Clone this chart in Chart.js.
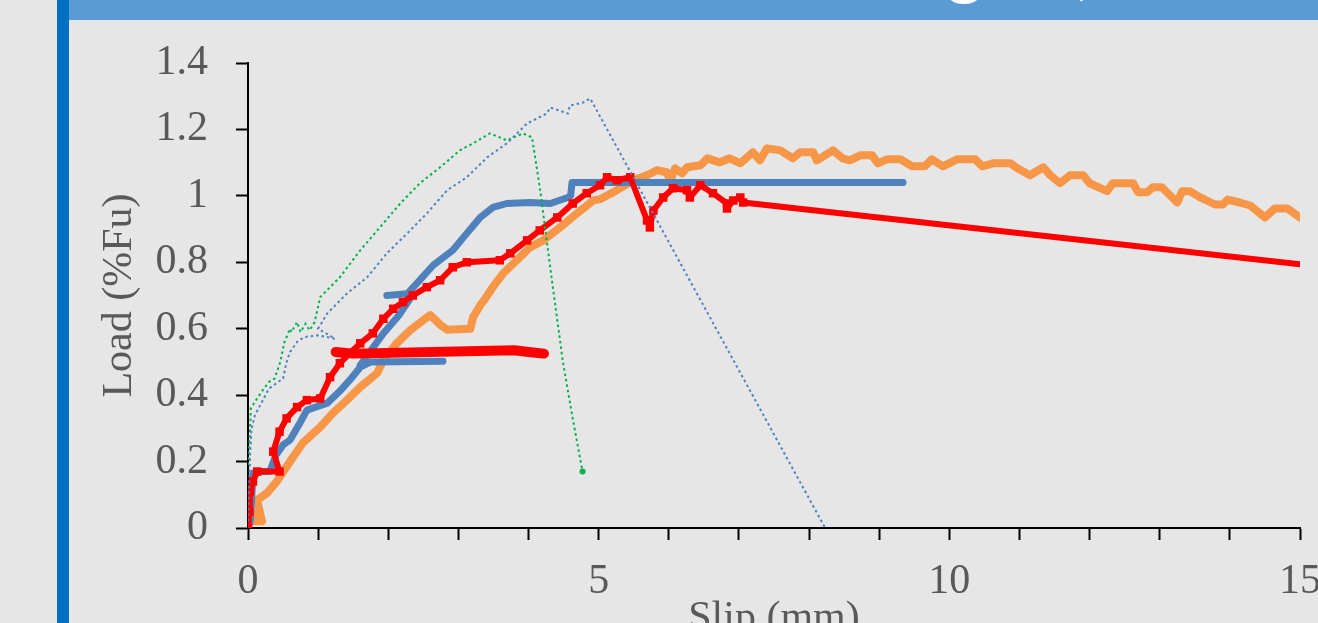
<!DOCTYPE html>
<html>
<head>
<meta charset="utf-8">
<script src="https://cdn.jsdelivr.net/npm/chart.js@4.4.1/dist/chart.umd.min.js"></script>
<style>
  html, body { margin: 0; padding: 0; width: 1318px; height: 623px; overflow: hidden; background: #e6e6e6; }
  #bar { position: absolute; left: 57px; top: 0; width: 12px; height: 623px; background: #0070c0; }
  #banner { position: absolute; left: 69px; top: 0; width: 1249px; height: 20px; background: #5b9bd5; overflow: hidden; }
  #banner span { position: absolute; top: -73px; white-space: nowrap; color: #fff; font: 72px/1 Lato, sans-serif; }
  #headA { right: 372px; }
  #headB { left: 877px; }
  #wrap { position: absolute; left: 0; top: 0; width: 1360px; height: 660px; }
</style>
</head>
<body>
<div id="bar"></div>
<div id="banner"><span id="headA">Bond Behaviour and Stren</span><span id="headB">gth (Normalised)</span></div>
<div id="wrap"><canvas id="chart" width="1360" height="660"></canvas></div>
<script>
// tick labels
const xTickLabels = [0, 5, 10, 15];
const yTickLabels = ['0', '0.2', '0.4', '0.6', '0.8', '1', '1.2', '1.4'];

// [slip (mm), load (%Fu)]
const greenDotted = [[0,0.19],[0.02,0.26],[0.03,0.3],[0.04,0.36],[0.13,0.39],[0.21,0.415],[0.3,0.44],[0.38,0.45],[0.46,0.5],[0.52,0.56],[0.6,0.6],[0.62,0.59],[0.7,0.62],[0.75,0.59],[0.82,0.615],[0.88,0.595],[0.95,0.62],[1.03,0.695],[1.31,0.755],[1.6,0.836],[1.88,0.905],[2.17,0.977],[2.45,1.038],[2.74,1.086],[3.02,1.137],[3.21,1.158],[3.45,1.188],[3.69,1.167],[3.92,1.188],[4.05,1.176],[4.16,1.026],[4.35,0.72],[4.49,0.5],[4.63,0.33],[4.77,0.17]];
const blueDotted = [[0,0.02],[0.02,0.15],[0.03,0.22],[0.05,0.3],[0.1,0.34],[0.2,0.38],[0.3,0.42],[0.4,0.435],[0.5,0.45],[0.55,0.5],[0.6,0.53],[0.7,0.56],[0.8,0.575],[1.0,0.58],[1.24,0.57],[1.0,0.6],[1.13,0.646],[1.41,0.706],[1.7,0.755],[1.98,0.827],[2.27,0.887],[2.55,0.947],[2.84,1.017],[3.12,1.056],[3.41,1.116],[3.69,1.158],[3.98,1.218],[4.26,1.248],[4.31,1.266],[4.56,1.248],[4.59,1.272],[4.78,1.281],[4.88,1.293],[8.23,0]];
const blueLow = [[0,0],[0.03,0.02],[0.05,0.08],[0.07,0.165],[0.2,0.17],[0.31,0.17],[0.4,0.22],[0.5,0.25],[0.6,0.265],[0.75,0.32],[0.84,0.355],[1.13,0.376],[1.3,0.41],[1.45,0.445],[1.6,0.484],[1.75,0.5],[2.78,0.502]];
const blueRise = [[1.6,0.49],[1.93,0.586],[2.15,0.64],[2.31,0.69]];
const blueHigh = [[1.98,0.70],[2.27,0.705],[2.45,0.746],[2.64,0.791],[2.92,0.836],[3.12,0.887],[3.31,0.935],[3.49,0.965],[3.69,0.977],[4.02,0.98],[4.31,0.977],[4.56,0.995],[4.6,1.0],[4.62,1.04],[9.34,1.04]];
const redMain = [[0,0],[0.02,0.05],[0.03,0.11],[0.07,0.14],[0.13,0.17],[0.45,0.17],[0.36,0.23],[0.45,0.29],[0.55,0.33],[0.7,0.364],[0.84,0.385],[1.03,0.39],[1.17,0.454],[1.31,0.496],[1.45,0.526],[1.6,0.556],[1.78,0.586],[1.93,0.63],[2.07,0.66],[2.21,0.68],[2.35,0.70],[2.55,0.725],[2.74,0.746],[2.92,0.785],[3.12,0.8],[3.59,0.806],[3.74,0.827],[3.98,0.866],[4.16,0.896],[4.41,0.935],[4.63,0.977],[4.83,1.008],[5.02,1.032],[5.12,1.056],[5.26,1.047],[5.45,1.056],[5.69,0.926],[5.73,0.905],[5.78,0.956],[5.92,0.995],[6.06,1.023],[6.26,1.017],[6.3,0.995],[6.45,1.032],[6.63,1.008],[6.83,0.977],[6.83,0.962],[6.92,0.986],[7.02,0.995],[7.06,0.98],[15,0.794]];
const redPlateau = [[1.25,0.53],[1.5,0.525],[3.8,0.535],[4.0,0.53],[4.22,0.525]];
const orangeTest = [[0,0],[0.03,0.05],[0.07,0.045],[0.1,0.02],[0.2,0.02],[0.13,0.084],[0.27,0.105],[0.41,0.14],[0.6,0.2],[0.78,0.256],[1.03,0.304],[1.21,0.346],[1.41,0.385],[1.6,0.424],[1.84,0.466],[1.93,0.505],[2.12,0.556],[2.31,0.595],[2.5,0.626],[2.6,0.641],[2.74,0.612],[2.84,0.597],[3.17,0.6],[3.21,0.635],[3.31,0.67],[3.38,0.69],[3.49,0.725],[3.64,0.767],[3.83,0.806],[4.02,0.845],[4.21,0.866],[4.45,0.905],[4.69,0.947],[4.92,0.986],[5.02,0.99],[5.26,1.017],[5.49,1.047],[5.69,1.062],[5.83,1.077],[5.97,1.071],[6.02,1.047],[6.09,1.083],[6.19,1.068],[6.26,1.086],[6.45,1.092],[6.55,1.113],[6.73,1.101],[6.87,1.113],[7.02,1.098],[7.2,1.131],[7.3,1.107],[7.4,1.143],[7.59,1.137],[7.77,1.113],[7.87,1.131],[8.06,1.131],[8.11,1.107],[8.34,1.137],[8.48,1.113],[8.58,1.107],[8.73,1.122],[8.9,1.122],[8.98,1.098],[9.11,1.11],[9.3,1.11],[9.47,1.089],[9.65,1.089],[9.75,1.11],[9.91,1.089],[10.11,1.11],[10.37,1.11],[10.47,1.089],[10.62,1.098],[10.87,1.098],[10.97,1.083],[11.15,1.062],[11.34,1.086],[11.44,1.062],[11.58,1.038],[11.72,1.062],[11.91,1.062],[12.0,1.038],[12.25,1.014],[12.33,1.038],[12.62,1.038],[12.69,1.011],[12.82,1.011],[12.9,1.026],[13.03,1.026],[13.25,0.98],[13.32,1.014],[13.43,1.014],[13.57,0.996],[13.67,0.986],[13.79,0.974],[13.9,0.974],[13.97,0.989],[14.14,0.98],[14.29,0.971],[14.5,0.935],[14.64,0.962],[14.82,0.962],[15.0,0.935]];

const BLUE = '#4f81bd', GREEN = '#00b050', ORANGE = '#f79646', RED = '#ff0000';
const AXIS_TEXT = '#595959';
const serif = 'Liberation Serif, Times New Roman, serif';

function line(points, color, width, extra) {
  return Object.assign({
    data: points.map(p => ({ x: p[0], y: p[1] })),
    showLine: true,
    borderColor: color,
    backgroundColor: color,
    borderWidth: width,
    pointRadius: 0,
    borderJoinStyle: 'round',
    borderCapStyle: 'round',
    tension: 0
  }, extra || {});
}

const dotted = { borderDash: [2.5, 3], borderCapStyle: 'butt', borderJoinStyle: 'miter', order: 0 };

const datasets = [
  line(orangeTest, ORANGE, 8, { order: 4 }),
  line(blueLow, BLUE, 7, { order: 3 }),
  line(blueRise, BLUE, 7, { order: 3 }),
  line(blueHigh, BLUE, 7, { order: 3 }),
  line(redPlateau, RED, 10, { order: 2 }),
  line(redMain, RED, 6, {
    order: 1,
    pointStyle: 'rect',
    pointBorderWidth: 0,
    pointRadius: c => c.dataIndex < redMain.length - 1 ? 6 : 0
  }),
  line(blueDotted, BLUE, 2, dotted),
  line(greenDotted, GREEN, 2, Object.assign({}, dotted, {
    pointBorderWidth: 0,
    pointRadius: c => c.dataIndex === greenDotted.length - 1 ? 3 : 0
  }))
];

new Chart(document.getElementById('chart'), {
  type: 'scatter',
  data: { datasets: datasets },
  options: {
    responsive: false,
    animation: false,
    events: [],
    layout: { padding: { left: 70, top: 63, right: 60, bottom: 0 } },
    plugins: { legend: { display: false }, tooltip: { enabled: false } },
    scales: {
      x: {
        type: 'linear', min: 0, max: 15,
        ticks: {
          stepSize: 1, autoSkip: false, maxRotation: 0, padding: 17,
          color: AXIS_TEXT, font: { family: serif, size: 42 },
          callback: v => xTickLabels.includes(v) ? String(v) : ''
        },
        grid: { drawOnChartArea: false, drawTicks: true, tickLength: 12, tickWidth: 2, tickColor: '#000' },
        border: { color: '#000', width: 2 },
        title: { display: true, text: 'Slip (mm)', color: AXIS_TEXT, font: { family: serif, size: 42 }, padding: { top: 0, bottom: 16 } },
        afterFit: s => { s.height = 660 - 528; }
      },
      y: {
        type: 'linear', min: 0, max: 1.4,
        ticks: {
          stepSize: 0.2, padding: 28,
          color: AXIS_TEXT, font: { family: serif, size: 42 },
          callback: v => yTickLabels[Math.round(v / 0.2)]
        },
        grid: { drawOnChartArea: false, drawTicks: true, tickLength: 12, tickWidth: 2, tickColor: '#000' },
        border: { color: '#000', width: 2 },
        title: { display: true, text: 'Load (%Fu)', color: AXIS_TEXT, font: { family: serif, size: 42 }, padding: { top: 25, bottom: 0 } },
        afterFit: s => { s.width = 178; }
      }
    }
  }
});
</script>
</body>
</html>
